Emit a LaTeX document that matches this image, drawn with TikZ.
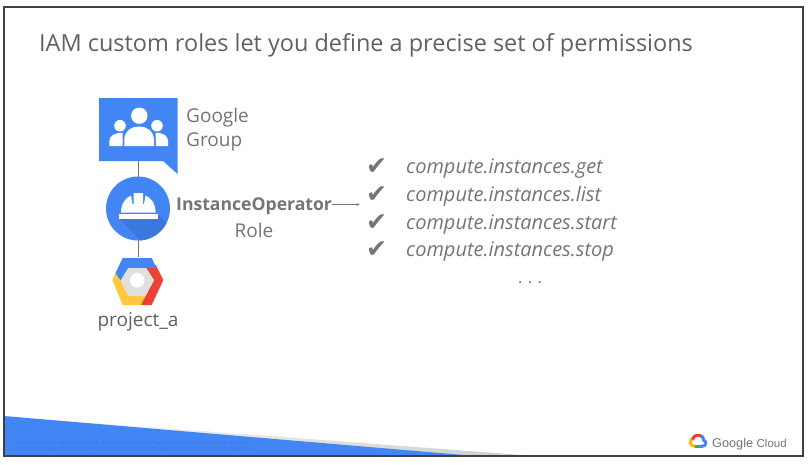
\documentclass[tikz,border=0pt]{standalone}
\usepackage{fontspec}
\usetikzlibrary{arrows.meta}
\setmainfont{Open Sans}
\newfontfamily\chk{DejaVu Sans}
\newfontfamily\lib{Liberation Sans}
\definecolor{gblue}{HTML}{4285F4}
\definecolor{gdark}{HTML}{3B78DC}
\definecolor{gred}{HTML}{EA4335}
\definecolor{gyel}{HTML}{FFC83D}
\definecolor{lyel}{HTML}{FBBC05}
\definecolor{ggreen}{HTML}{34A853}
\definecolor{txt}{HTML}{757575}
\definecolor{ttl}{HTML}{616161}
\tikzset{
 lbl/.style={text=txt,inner sep=0pt,font=\fontsize{19}{19}\selectfont},
 perm/.style={text=txt,inner sep=0pt,anchor=base west,font=\fontsize{20}{20}\selectfont\itshape},
 tick/.style={text=txt,inner sep=0pt,anchor=base west,font=\chk\fontsize{25}{25}\selectfont},
 conn/.style={draw=txt,line width=1pt},
 logoarc/.style={line width=3pt},
}
\begin{document}
\begin{tikzpicture}[x=1pt,y=-1pt]
\useasboundingbox (0,0) rectangle (809,464);
\fill[white] (0,0) rectangle (809,464);
% band
\shade[left color=white,right color=black!20] (4,416) -- (535,456) -- (4,456) -- cycle;
\fill[gblue] (4,416) -- (475,456) -- (4,456) -- cycle;
\node[inner sep=0pt,anchor=west,text=gdark,font=\lib\fontsize{4.9}{6}\selectfont,align=left] (legal) at (15,446) {© 2017 Google Inc. All rights reserved. Google and the Google logo are trademarks of Google Inc. All other\\company and product names may be trademarks of the respective companies with which they are associated.};
% frame
\draw[draw=black!75,line width=1.2pt] (4,7) rectangle (803,456);
% title
\node[inner sep=0pt,anchor=base west,text=ttl,font=\fontsize{23.46}{24}\selectfont] (title) at (39,51) {IAM custom roles let you define a precise set of permissions};
% connectors
\coordinate (gbot) at (138,161);
\coordinate (rtop) at (138,177);
\coordinate (rbot) at (138,240);
\coordinate (ptop) at (138,257);
\draw[conn] (gbot) -- (rtop);
\draw[conn] (rbot) -- (ptop);
% group icon
\fill[gblue] (99,98) -- (177.5,98) -- (177.5,174) -- (163,161) -- (99,161) -- cycle;
\fill[white] (139.3,115.7) circle (8.2);
\fill[white] (120,125.7) circle (5.8);
\fill[white] (157,125.7) circle (5.8);
\fill[white] (124.3,146) -- (124.3,139) .. controls (125,130) and (132,126.5) .. (139,126.5) .. controls (146,126.5) and (153,130) .. (154,139) -- (154,146) -- cycle;
\fill[white] (109.3,146) -- (109.3,141) .. controls (109.3,136) and (114,133) .. (122.7,132.7) .. controls (122.7,135) and (122.5,137) .. (122.5,139) -- (122.5,146) -- cycle;
\fill[white] (168,146) -- (168,141) .. controls (168,136) and (164,133) .. (155.5,132.7) .. controls (155.7,135) and (155.8,137) .. (155.8,139) -- (155.8,146) -- cycle;
% role icon
\fill[gblue] (138,208.5) circle (32);
\begin{scope}
\clip (138,208.5) circle (32);
\fill[gdark] (119,218) -- (157,218) -- (157,213) -- (190,246) -- (146,246) -- cycle;
\end{scope}
\fill[white] (119,214) rectangle (157.5,218.8);
\fill[white] (121,212.7) .. controls (121,204) and (125,198) .. (131,195.5) -- (132.5,204) -- (133.5,204) -- (133.5,193) -- (143,193) -- (143,204) -- (144,204) -- (145.5,195.5) .. controls (151.5,198) and (155.6,204) .. (155.6,212.7) -- cycle;
% project icon
\fill[gyel] (116,272) -- (112.3,280) -- (122.7,305) -- (141,305) -- (146,296) -- (128.3,296) -- (120.7,280.5) -- cycle;
\fill[gred] (146,267.7) -- (155.8,265) -- (163.3,280) -- (151.7,305) -- (141,305) -- (154,280) -- cycle;
\fill[gblue] (122.7,258) -- (151.7,258) -- (156.5,268) -- (128.3,268) -- (120.7,280.5) -- (115.5,273) -- cycle;
\fill[black!12] (128.3,268) -- (146,268) -- (154,280.5) -- (145,296) -- (128.3,296) -- (120.7,280.5) -- cycle;
\fill[white] (137.3,280.3) circle (7.3);
% labels
\node[lbl,anchor=base west] (g1) at (186,122) {Google};
\node[lbl,anchor=base west] (g2) at (186,146) {Group};
\node[lbl,anchor=base west,font=\fontsize{17.6}{18}\selectfont\bfseries] (role) at (176,210) {InstanceOperator};
\node[lbl,anchor=base] (r2) at (254,237) {Role};
\node[lbl,anchor=base,text=ttl] (proj) at (138,326) {project\_a};
\coordinate (aend) at (360,204.5);
\draw[draw=txt,line width=.7pt,-{Latex[length=3.5pt,width=3pt]}] (role.east |- aend) -- (aend);
% permissions
\foreach \n/\y/\s in {a/173/get,b/201/list,c/229/start,d/256/stop}{
 \node[tick] (t\n) at (366,\y+1) {✔};
 \node[perm] (p\n) at (406,\y) {compute.instances.\s};
}
\node[text=txt,inner sep=0pt,font=\fontsize{16}{16}\selectfont] (dots) at (530,283) {. . .};
% logo
\draw[logoarc,lyel] (696,446.3) -- (695,446.3) .. controls (689.5,446.3) and (689,439.5) .. (693.5,438);
\draw[logoarc,gred] (692.5,439.5) .. controls (693.5,435) and (699,433.5) .. (703,437.5);
\draw[logoarc,gblue] (701,435.5) .. controls (703,437) and (703.7,438.5) .. (703.7,440.5);
\draw[logoarc,gblue] (703.3,440) .. controls (707,441) and (706.5,446.3) .. (702,446.3) -- (698,446.3);
\draw[logoarc,ggreen] (694.5,446.3) -- (699,446.3);
\node[inner sep=0pt,anchor=base west,text=txt,font=\lib\fontsize{12.7}{13}\selectfont] (logo) at (712,447) {Google\hspace{3.5pt}{\fontsize{11.5}{13}\selectfont Cloud}};
\end{tikzpicture}
\end{document}
